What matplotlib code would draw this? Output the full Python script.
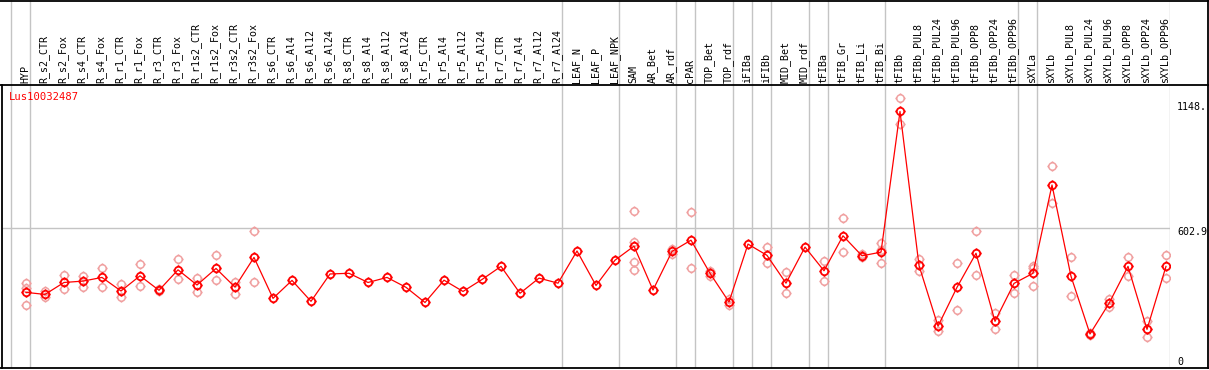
import matplotlib
matplotlib.use("Agg")
import matplotlib.pyplot as plt
import numpy as np
from matplotlib.path import Path
from matplotlib.lines import Line2D

gene = "Lus10032487"
samples = ["HYP", "R_s2_CTR", "R_s2_Fox", "R_s4_CTR", "R_s4_Fox", "R_r1_CTR", "R_r1_Fox",
           "R_r3_CTR", "R_r3_Fox", "R_r1s2_CTR", "R_r1s2_Fox", "R_r3s2_CTR", "R_r3s2_Fox",
           "R_s6_CTR", "R_s6_Al4", "R_s6_Al12", "R_s6_Al24", "R_s8_CTR", "R_s8_Al4",
           "R_s8_Al12", "R_s8_Al24", "R_r5_CTR", "R_r5_Al4", "R_r5_Al12", "R_r5_Al24",
           "R_r7_CTR", "R_r7_Al4", "R_r7_Al12", "R_r7_Al24", "LEAF_N", "LEAF_P", "LEAF_NPK",
           "SAM", "AR_Bet", "AR_rdf", "cPAR", "TOP_Bet", "TOP_rdf", "iFIBa", "iFIBb",
           "MID_Bet", "MID_rdf", "tFIBa", "tFIB_Gr", "tFIB_Li", "tFIB_Bi", "tFIBb",
           "tFIBb_PUL8", "tFIBb_PUL24", "tFIBb_PUL96", "tFIBb_OPP8", "tFIBb_OPP24",
           "tFIBb_OPP96", "sXYLa", "sXYLb", "sXYLb_PUL8", "sXYLb_PUL24", "sXYLb_PUL96",
           "sXYLb_OPP8", "sXYLb_OPP24", "sXYLb_OPP96"]

means = [325, 316, 368, 374, 390, 331, 397, 334, 423, 357, 429, 348, 477,
         299, 377, 286, 405, 408, 368, 390, 347, 281, 378, 329, 381,
         438, 321, 387, 365, 505, 355, 465,
         526, 335, 503, 552, 408, 283, 535, 486, 365, 522, 419, 571, 484, 500,
         1112, 442, 178, 347, 495, 199, 364,
         408, 792, 395, 144, 277, 438, 164, 438]

replicates = [[364, 343, 268], [332, 306], [399, 338], [396, 349], [429, 347],
              [360, 303], [448, 351], [338, 330], [468, 381], [387, 325],
              [487, 377], [371, 319], [590, 368],
              [], [], [], [], [], [], [], [], [], [], [], [],
              [], [], [], [], [], [], [],
              [677, 545, 457, 422], [], [512, 494], [674, 429], [419, 396],
              [296, 270], [], [522, 452], [412, 321], [], [461, 373],
              [648, 500], [490, 478], [539, 510, 451],
              [1169, 1058], [468, 420], [204, 155], [451, 248], [590, 399],
              [235, 164], [399, 323],
              [439, 433, 352], [874, 712], [478, 309], [150, 138], [296, 262],
              [481, 395], [200, 129], [486, 387]]

group_breaks = [-1, 0, 28, 31, 34, 35, 37, 38, 39, 41, 42, 45, 52, 53, 60]
ref_value = 602.9
max_value = 1148

W, H = 1209, 370
fig = plt.figure(figsize=(W / 100, H / 100), dpi=100)
fig.patch.set_facecolor("white")

left_px, right_px = 2, 1170
top_px, sep_px, bot_px = 0, 85, 368
x0 = (left_px - 26) / 19.0
x1 = (right_px - 26) / 19.0

ax = fig.add_axes([left_px / W, (H - bot_px) / H, (right_px - left_px) / W, (bot_px - sep_px) / H])
hx = fig.add_axes([left_px / W, (H - sep_px) / H, (right_px - left_px) / W, (sep_px - top_px) / H])

for a in (ax, hx):
    a.set_xlim(x0, x1)
    a.set_xticks([])
    a.set_yticks([])
    for s in a.spines.values():
        s.set_visible(False)
    for b in group_breaks:
        a.axvline(b + 0.22, color="#c4c4c4", lw=1.0, zorder=0)

ax.set_ylim(-4, 1227)
hx.set_ylim(0, 1)

ax.axhline(ref_value, color="#c4c4c4", lw=1.0, zorder=0)

# marker: circle with four small ticks
circ = Path.unit_circle()
tv, tc = [], []
for dx, dy in [(0, 1), (0, -1), (1, 0), (-1, 0)]:
    tv += [(dx * 1.0, dy * 1.0), (dx * 1.38, dy * 1.38)]
    tc += [Path.MOVETO, Path.LINETO]
marker = Path.make_compound_path(circ, Path(tv, tc))

xs = np.arange(len(samples))
for i, reps in enumerate(replicates):
    if reps:
        ax.plot([i] * len(reps), reps, linestyle="none", marker=marker, markersize=7.4,
                markerfacecolor="none", markeredgecolor="#f0a0a0", markeredgewidth=1.1, zorder=2)

ax.plot(xs, means, color="#ff0000", lw=0.9, zorder=3)
ax.plot(xs, means, linestyle="none", marker=marker, markersize=7.4,
        markerfacecolor="none", markeredgecolor="#ff0000", markeredgewidth=1.3, zorder=4)

mono = "DejaVu Sans Mono"
for i, name in enumerate(samples):
    hx.text(i - 0.05, 0.025, name, rotation=90, ha="center", va="bottom",
            fontsize=7.2, family=mono, color="black")

fig.text(9 / W, 1 - 97 / H, gene, color="#ff0000", fontsize=7.6, family=mono,
         ha="left", va="center")

for val, label, ypx in [(max_value, "1148.", 107), (ref_value, "602.9", 232), (0, "0", 362)]:
    fig.text(1177 / W, 1 - ypx / H, label, fontsize=7.2, family=mono, ha="left",
             va="center", color="black")

# borders
def fline(xa, ya, xb, yb, **kw):
    fig.add_artist(Line2D([xa / W, xb / W], [1 - ya / H, 1 - yb / H],
                          transform=fig.transFigure, color="black", lw=1.3, **kw))

fline(0, 0.5, W, 0.5)
fline(0, sep_px, W, sep_px)
fline(0, bot_px, W, bot_px)
fline(1.5, sep_px, 1.5, bot_px)
fline(W - 1, 0, W - 1, bot_px)

fig.savefig("out.png", dpi=100, facecolor="white")
